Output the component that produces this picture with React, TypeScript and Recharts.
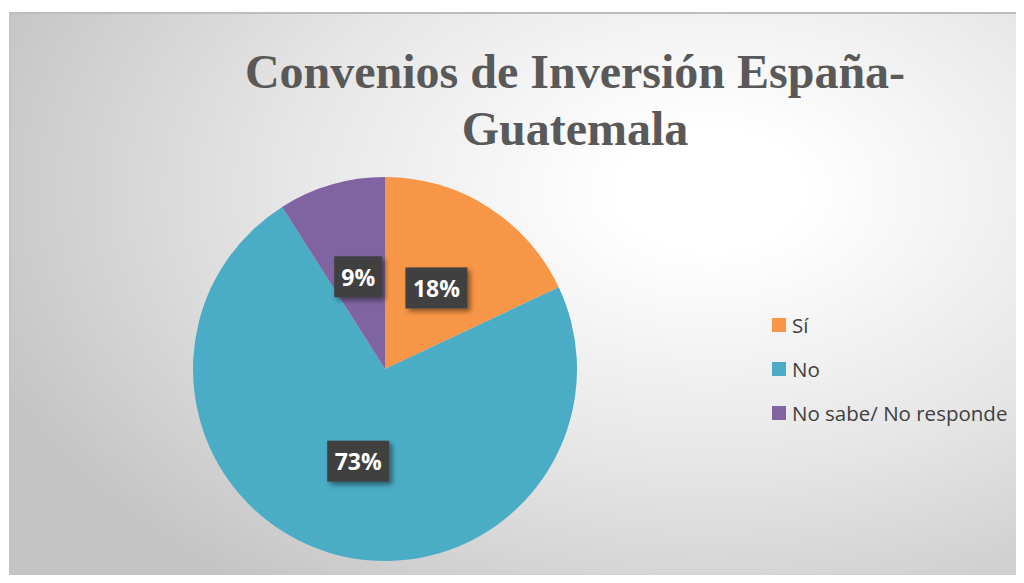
import { PieChart, Pie, Cell } from 'recharts'

// answer categories and their shares (%)
const categories = ['Sí', 'No', 'No sabe/ No responde']
const shares = [18, 73, 9]
const colors = ['#F79646', '#4BACC6', '#8064A2']

const chartData = categories.map((name, i) => ({ name, value: shares[i] }))

const RAD = Math.PI / 180

function renderLabel(props: any) {
  const { cx, cy, midAngle, outerRadius, value, index } = props
  const r = outerRadius * 0.5
  const x = cx + r * Math.cos(-midAngle * RAD)
  const y = cy + r * Math.sin(-midAngle * RAD)
  const text = `${value}%`
  const w = text.length * 14 + 20
  const h = 41
  return (
    <g key={`lbl-${index}`}>
      <defs>
        <filter id={`shadow-${index}`} x="-30%" y="-30%" width="170%" height="170%">
          <feDropShadow dx="3" dy="3" stdDeviation="2.5" floodColor="#000" floodOpacity="0.45" />
        </filter>
      </defs>
      <rect x={x - w / 2} y={y - h / 2} width={w} height={h} fill="#404040" filter={`url(#shadow-${index})`} />
      <text
        x={x}
        y={y}
        fill="#ffffff"
        textAnchor="middle"
        dominantBaseline="central"
        fontFamily="'Open Sans', Lato, sans-serif"
        fontWeight={700}
        fontSize={23}
      >
        {text}
      </text>
    </g>
  )
}

export default function App() {
  return (
    <div style={{ position: 'relative', width: 1024, height: 583, margin: -8, overflow: 'hidden', background: '#ffffff' }}>
      <div
        style={{
          position: 'absolute',
          left: 9,
          top: 12,
          width: 1030,
          height: 590,
          borderTop: '2px solid #bdbdbd',
          borderLeft: '2px solid #c4c4c4',
          boxSizing: 'border-box',
          background: 'radial-gradient(ellipse 75% 85% at 68% 30%, #ffffff 0%, #ffffff 12%, #e6e6e6 55%, #c4c4c4 100%)',
        }}
      />
      <div
        style={{
          position: 'absolute',
          left: 0,
          top: 43,
          width: 1150,
          textAlign: 'center',
          fontFamily: "'Liberation Serif', 'Times New Roman', serif",
          fontWeight: 700,
          fontSize: 48,
          lineHeight: '57px',
          color: '#595959',
        }}
      >
        Convenios de Inversión España-
        <br />
        Guatemala
      </div>
      <div style={{ position: 'absolute', left: 0, top: 0 }}>
        <PieChart width={1024} height={583} margin={{ top: 0, right: 0, bottom: 0, left: 0 }}>
          <Pie
            data={chartData}
            dataKey="value"
            nameKey="name"
            cx={385}
            cy={369}
            outerRadius={192}
            startAngle={90}
            endAngle={-270}
            stroke="none"
            labelLine={false}
            label={renderLabel}
            isAnimationActive={false}
          >
            {chartData.map((d, i) => (
              <Cell key={d.name} fill={colors[i]} />
            ))}
          </Pie>
        </PieChart>
      </div>
      <div
        style={{
          position: 'absolute',
          left: 772,
          top: 303,
          fontFamily: "'Open Sans', Lato, sans-serif",
          fontSize: 20.5,
          color: '#404040',
        }}
      >
        {chartData.map((d, i) => (
          <div key={d.name} style={{ display: 'flex', alignItems: 'center', height: 44 }}>
            <span style={{ width: 14, height: 14, background: colors[i], marginRight: 6, flex: 'none' }} />
            <span style={{ whiteSpace: 'nowrap' }}>{d.name}</span>
          </div>
        ))}
      </div>
    </div>
  )
}
